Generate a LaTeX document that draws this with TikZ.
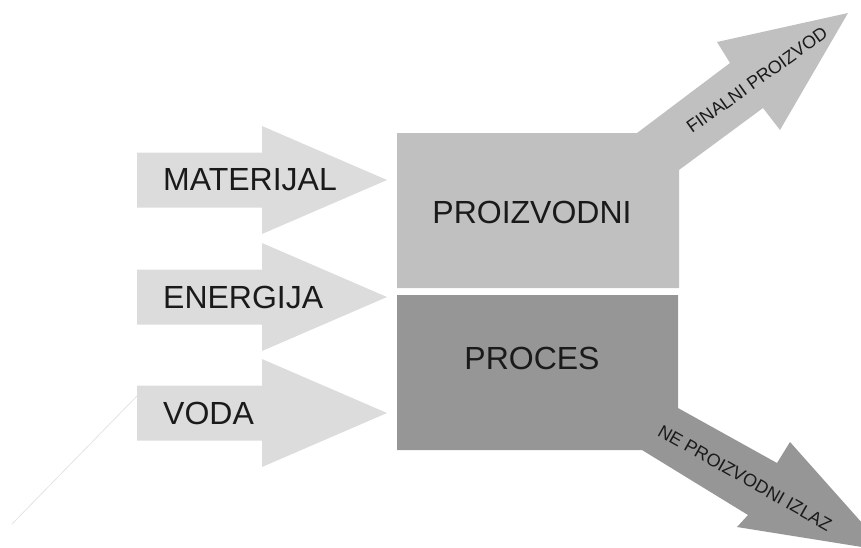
\documentclass[tikz,border=0pt]{standalone}
\usepackage{fontspec}
\setmainfont{Liberation Sans}
\usetikzlibrary{positioning}
\definecolor{ulaz}{HTML}{DCDCDC}
\definecolor{gornji}{HTML}{C0C0C0}
\definecolor{donji}{HTML}{969696}
\definecolor{tekst}{HTML}{1A1A1A}
\begin{document}
\begin{tikzpicture}[x=1pt, y=-1pt,
  veliki/.style={text=tekst, inner sep=0pt, font=\fontsize{32}{38}\selectfont},
  mali/.style={text=tekst, inner sep=0pt, font=\fontsize{18}{22}\selectfont}]
  \useasboundingbox (0,0) rectangle (861,547);
  \clip (0,0) rectangle (861,547);
  \draw [ulaz!80, line width=0.8pt] (137,396) -- (12,524);
  \foreach \y/\ime/\txt in {180/mat/MATERIJAL, 297/ene/ENERGIJA, 413/vod/VODA} {
    \fill [ulaz] (137,\y-27.5) -- (262,\y-27.5) -- (262,\y-54) -- (387,\y) -- (262,\y+54) -- (262,\y+27.5) -- (137,\y+27.5) -- cycle;
    \node [veliki, anchor=west] (\ime) at (163,\y) {\txt};
  }
  \fill [gornji] (397,133) -- (637,133) -- (730,63) -- (717,42) -- (848,13) -- (780,130) -- (763,108) -- (679,170) -- (679,288) -- (397,288) -- cycle;
  \fill [donji] (397,295) -- (678,295) -- (678,408) -- (777,463) -- (790,442) -- (887,551) -- (737,527) -- (748,515) -- (642,450) -- (397,450) -- cycle;
  \node [veliki] (proizvodni) at (532,212) {PROIZVODNI};
  \node [veliki] (proces) at (532,358) {PROCES};
  \node [mali, rotate=35.5] (finalni) at (757,80) {FINALNI PROIZVOD};
  \node [mali, rotate=-29.5] (izlaz) at (745,478) {NE PROIZVODNI IZLAZ};
\end{tikzpicture}
\end{document}
